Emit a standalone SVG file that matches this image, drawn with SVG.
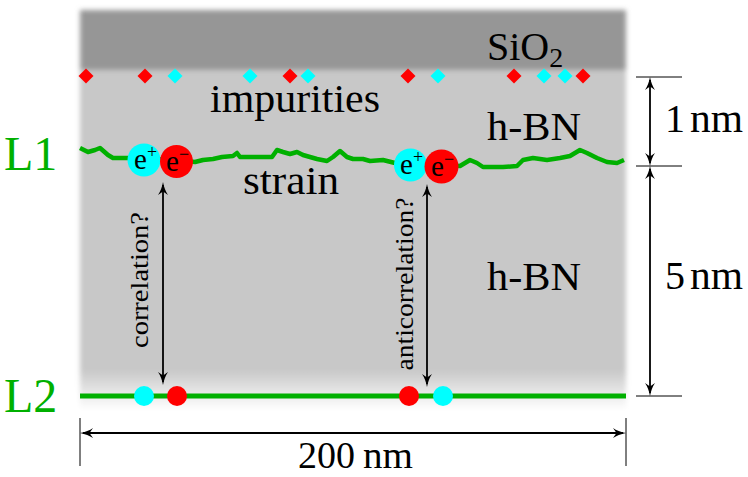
<svg xmlns="http://www.w3.org/2000/svg" width="748" height="477" viewBox="0 0 748 477">
<style>
  text { font-family: "Liberation Serif", "Times New Roman", serif; fill: #000; }
  .big { font-size: 40px; }
  .lab { font-size: 48px; fill: #00b000; }
  .rot { font-size: 26px; }
  .pc { font-size: 29px; }
  .sup { font-size: 18px; }
  .dim { stroke: #000; stroke-width: 1.8; fill: none; }
  .tick { stroke: #000; stroke-width: 1; }
  .dr { fill: #ff0000; }
  .dc { fill: #00ffff; }
  .layer { stroke: #00b000; fill: none; stroke-linejoin: round; stroke-linecap: butt; }
</style>
<defs>
  <filter id="soft" x="-5%" y="-5%" width="110%" height="110%">
    <feGaussianBlur stdDeviation="2.5"/>
  </filter>
  <linearGradient id="fade" gradientUnits="userSpaceOnUse" x1="0" y1="10" x2="0" y2="410">
    <stop offset="0" stop-color="#c8c8c8"/>
    <stop offset="0.9" stop-color="#c8c8c8"/>
    <stop offset="1" stop-color="#ffffff"/>
  </linearGradient>
  <marker id="ah" viewBox="0 0 13 10" refX="10" refY="5" markerWidth="13" markerHeight="10" markerUnits="userSpaceOnUse" orient="auto-start-reverse">
    <path d="M0,0 Q5,3.5 13,5 Q5,6.5 0,10 L3.5,5 Z" fill="#000"/>
  </marker>
</defs>

<g id="background" filter="url(#soft)">
  <rect x="80" y="10" width="546" height="400" fill="url(#fade)"/>
  <rect x="80" y="10" width="546" height="60" fill="#969696"/>
</g>

<g id="labels-layers">
  <text class="big" x="487" y="60">SiO<tspan font-size="28" dy="7">2</tspan></text>
  <text class="big" x="210" y="112" textLength="170" lengthAdjust="spacingAndGlyphs">impurities</text>
  <text class="big" x="487" y="140" textLength="94" lengthAdjust="spacingAndGlyphs">h-BN</text>
  <text class="big" x="243" y="194" textLength="96" lengthAdjust="spacingAndGlyphs">strain</text>
  <text class="big" x="487" y="290" textLength="94" lengthAdjust="spacingAndGlyphs">h-BN</text>
</g>

<g id="impurities">
  <path class="dr" d="M86,68.5 l7.5,7.5 l-7.5,7.5 l-7.5,-7.5 Z"/>
  <path class="dr" d="M145,68.5 l7.5,7.5 l-7.5,7.5 l-7.5,-7.5 Z"/>
  <path class="dc" d="M175,68.5 l7.5,7.5 l-7.5,7.5 l-7.5,-7.5 Z"/>
  <path class="dc" d="M250,68.5 l7.5,7.5 l-7.5,7.5 l-7.5,-7.5 Z"/>
  <path class="dr" d="M290,68.5 l7.5,7.5 l-7.5,7.5 l-7.5,-7.5 Z"/>
  <path class="dc" d="M308,68.5 l7.5,7.5 l-7.5,7.5 l-7.5,-7.5 Z"/>
  <path class="dr" d="M408,68.5 l7.5,7.5 l-7.5,7.5 l-7.5,-7.5 Z"/>
  <path class="dc" d="M438,68.5 l7.5,7.5 l-7.5,7.5 l-7.5,-7.5 Z"/>
  <path class="dr" d="M514,68.5 l7.5,7.5 l-7.5,7.5 l-7.5,-7.5 Z"/>
  <path class="dc" d="M544,68.5 l7.5,7.5 l-7.5,7.5 l-7.5,-7.5 Z"/>
  <path class="dc" d="M565,68.5 l7.5,7.5 l-7.5,7.5 l-7.5,-7.5 Z"/>
  <path class="dr" d="M583,68.5 l7.5,7.5 l-7.5,7.5 l-7.5,-7.5 Z"/>
</g>

<g id="L1">
  <path class="layer" stroke-width="4.5" d="M80,148 L88,152 L95,150 L100,148 L108,155 L113,158 L128,158 L176,160 L195,162 L203,160 L213,159 L222,157 L233,156 L237,153 L240,157 L272,157 L277,150 L283,152 L290,154 L297,152 L303,155 L317,159 L327,161 L333,157 L340,151 L347,157 L353,159 L363,159 L370,161 L383,160 L395,163 L440,165 L460,166 L470,160 L477,163 L483,167 L503,167 L517,166 L523,160 L533,158 L547,160 L560,158 L570,156 L580,150 L587,153 L597,158 L607,162 L617,163 L624,160"/>
  <text class="lab" x="4" y="170">L1</text>
</g>

<g id="L2">
  <line class="layer" stroke-width="5" x1="80" y1="396" x2="626" y2="396"/>
  <text class="lab" x="4" y="412">L2</text>
</g>

<g id="pair1">
  <circle cx="144" cy="160" r="16.5" fill="#00ffff"/>
  <circle cx="176.5" cy="161.5" r="16.5" fill="#ff0000"/>
  <text class="pc" x="134" y="169">e<tspan class="sup" dy="-11">+</tspan></text>
  <text class="pc" x="166" y="171">e<tspan class="sup" dy="-11">−</tspan></text>
</g>

<g id="pair2">
  <circle cx="410.5" cy="165" r="16.5" fill="#00ffff"/>
  <circle cx="441.5" cy="166.5" r="17" fill="#ff0000"/>
  <text class="pc" x="400" y="174">e<tspan class="sup" dy="-11">+</tspan></text>
  <text class="pc" x="431" y="176">e<tspan class="sup" dy="-11">−</tspan></text>
</g>

<g id="pair1-L2">
  <circle cx="144" cy="396" r="10" fill="#00ffff"/>
  <circle cx="177" cy="396" r="10" fill="#ff0000"/>
</g>

<g id="pair2-L2">
  <circle cx="409" cy="396" r="10" fill="#ff0000"/>
  <circle cx="443" cy="396" r="10" fill="#00ffff"/>
</g>

<g id="connectors">
  <line class="dim" x1="163" y1="185" x2="163" y2="382" marker-start="url(#ah)" marker-end="url(#ah)"/>
  <line class="dim" x1="427" y1="187" x2="427" y2="384" marker-start="url(#ah)" marker-end="url(#ah)"/>
  <line class="dim" x1="650" y1="80" x2="650" y2="163" marker-start="url(#ah)" marker-end="url(#ah)"/>
  <line class="dim" x1="650" y1="169" x2="650" y2="393" marker-start="url(#ah)" marker-end="url(#ah)"/>
  <line class="dim" x1="83" y1="433" x2="623" y2="433" marker-start="url(#ah)" marker-end="url(#ah)"/>
  <line class="tick" x1="636" y1="77" x2="682" y2="77"/>
  <line class="tick" x1="636" y1="166" x2="682" y2="166"/>
  <line class="tick" x1="636" y1="396" x2="682" y2="396"/>
  <line class="tick" x1="80" y1="418" x2="80" y2="466"/>
  <line class="tick" x1="626" y1="418" x2="626" y2="466"/>
</g>

<g id="connector-labels">
  <text class="rot" transform="translate(148,280) rotate(-90)" text-anchor="middle" textLength="136" lengthAdjust="spacingAndGlyphs">correlation?</text>
  <text class="rot" transform="translate(413,284) rotate(-90)" text-anchor="middle" textLength="173" lengthAdjust="spacingAndGlyphs">anticorrelation?</text>
  <text class="big" x="665" y="132">1<tspan x="690" textLength="53" lengthAdjust="spacingAndGlyphs">nm</tspan></text>
  <text class="big" x="665" y="289">5<tspan x="690" textLength="53" lengthAdjust="spacingAndGlyphs">nm</tspan></text>
  <text x="298" y="468" font-size="38">200<tspan x="363" textLength="50" lengthAdjust="spacingAndGlyphs">nm</tspan></text>
</g>
</svg>
